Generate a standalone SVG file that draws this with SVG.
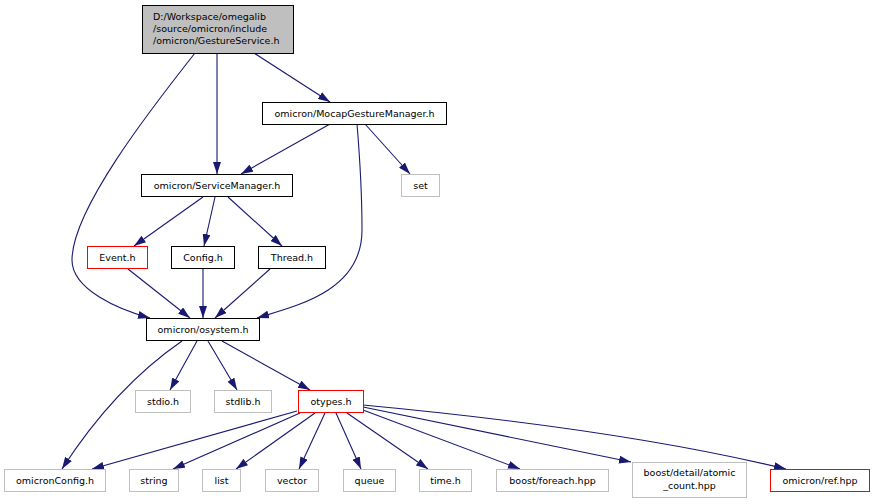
<svg xmlns="http://www.w3.org/2000/svg" width="875" height="504" viewBox="0 0 875 504">
<defs>
<marker id="ah" viewBox="0 0 12 8" refX="12" refY="4" markerWidth="12" markerHeight="8" markerUnits="userSpaceOnUse" orient="auto">
<path d="M0,0 L12,4 L0,8 z" fill="#191970"/>
</marker>
<style>
.n rect{fill:#fff;stroke:#000;stroke-width:1}
.g rect{fill:#fff;stroke:#bfbfbf;stroke-width:1}
.r rect{fill:#fff;stroke:#ff0000;stroke-width:1}
text{font-family:"DejaVu Sans",Verdana,sans-serif;font-size:9.5px;fill:#000;text-anchor:middle}
#edges path{fill:none;stroke:#191970;stroke-width:1.1;marker-end:url(#ah)}
</style>
</defs>
<rect width="875" height="504" fill="#fff"/>
<g id="edges">
<path d="M254,53 L330,102"/>
<path d="M217,53 L217,174"/>
<path d="M195,53 C150,110 72,210 72,260 C72,290 120,310 150,318"/>
<path d="M330,124 L241,174"/>
<path d="M365,124 L410,174"/>
<path d="M357,124 C360,160 362,200 362,230 C362,290 300,305 257,318"/>
<path d="M203,197 L134,246"/>
<path d="M215,197 L204,246"/>
<path d="M228,197 L282,246"/>
<path d="M128,269 L190,318"/>
<path d="M203,269 L203,318"/>
<path d="M270,269 L215,318"/>
<path d="M182,341 C140,370 100,410 62,469"/>
<path d="M197,341 L170,390"/>
<path d="M208,341 L237,390"/>
<path d="M222,341 L310,390"/>
<path d="M297,411 L92,469"/>
<path d="M300,413 L173,469"/>
<path d="M315,413 L236,469"/>
<path d="M325,413 L299,469"/>
<path d="M336,413 L361,469"/>
<path d="M347,413 L428,469"/>
<path d="M363,410 L520,469"/>
<path d="M363,407 L631,462"/>
<path d="M363,405 C480,416 650,436 786,469"/>
</g>
<g id="root" class="n"><rect x="142.5" y="5.5" width="151" height="48" style="fill:#bfbfbf"/>
<text x="153" y="20" style="text-anchor:start">D:/Workspace/omegalib</text>
<text x="153" y="32" style="text-anchor:start">/source/omicron/include</text>
<text x="153" y="44" style="text-anchor:start">/omicron/GestureService.h</text></g>
<g id="mocap" class="n"><rect x="262.5" y="102.5" width="184" height="22"/><text x="354.5" y="117">omicron/MocapGestureManager.h</text></g>
<g id="servicemanager" class="n"><rect x="141.5" y="174.5" width="151" height="22"/><text x="217" y="189">omicron/ServiceManager.h</text></g>
<g id="set" class="g"><rect x="401.5" y="174.5" width="38" height="22"/><text x="420.5" y="189">set</text></g>
<g id="event" class="r"><rect x="87.5" y="246.5" width="60" height="22"/><text x="117.5" y="261">Event.h</text></g>
<g id="config" class="n"><rect x="171.5" y="246.5" width="63" height="22"/><text x="203" y="261">Config.h</text></g>
<g id="thread" class="n"><rect x="258.5" y="246.5" width="67" height="22"/><text x="292" y="261">Thread.h</text></g>
<g id="osystem" class="n"><rect x="146.5" y="318.5" width="113" height="22"/><text x="203" y="333">omicron/osystem.h</text></g>
<g id="stdio" class="g"><rect x="135.5" y="390.5" width="55" height="22"/><text x="163" y="405">stdio.h</text></g>
<g id="stdlib" class="g"><rect x="214.5" y="390.5" width="57" height="22"/><text x="243" y="405">stdlib.h</text></g>
<g id="otypes" class="r"><rect x="298.5" y="390.5" width="65" height="22"/><text x="331" y="405">otypes.h</text></g>
<g id="omicronconfig" class="g"><rect x="4.5" y="469.5" width="101" height="22"/><text x="55" y="484">omicronConfig.h</text></g>
<g id="string" class="g"><rect x="129.5" y="469.5" width="49" height="22"/><text x="154" y="484">string</text></g>
<g id="list" class="g"><rect x="202.5" y="469.5" width="38" height="22"/><text x="221.5" y="484">list</text></g>
<g id="vector" class="g"><rect x="265.5" y="469.5" width="53" height="22"/><text x="292" y="484">vector</text></g>
<g id="queue" class="g"><rect x="343.5" y="469.5" width="52" height="22"/><text x="369.5" y="484">queue</text></g>
<g id="time" class="g"><rect x="419.5" y="469.5" width="52" height="22"/><text x="445.5" y="484">time.h</text></g>
<g id="foreach" class="g"><rect x="496.5" y="469.5" width="112" height="22"/><text x="552.5" y="484">boost/foreach.hpp</text></g>
<g id="atomic" class="g"><rect x="632.5" y="462.5" width="114" height="35"/><text x="689.5" y="476">boost/detail/atomic</text><text x="689.5" y="489">_count.hpp</text></g>
<g id="ref" class="r"><rect x="770.5" y="469.5" width="99" height="22"/><text x="820" y="484">omicron/ref.hpp</text></g>
</svg>
